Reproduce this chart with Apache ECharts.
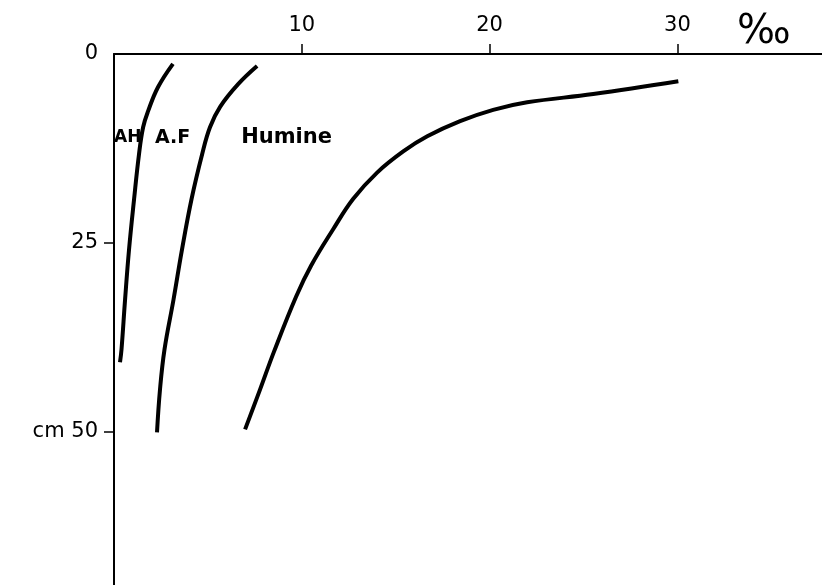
<!DOCTYPE html>
<html>
<head>
<meta charset="utf-8">
<script src="https://cdn.jsdelivr.net/npm/echarts@6/dist/echarts.min.js"></script>
<style>
html,body{margin:0;padding:0;background:#fff;}
#chart{width:822px;height:585px;}
</style>
</head>
<body>
<div id="chart"></div>
<script>
// Data (x in per mille, depth in cm)
var ahDepth = [1.3, 4.4, 7.6, 9.7, 13.3, 19.2, 25.9, 32.5, 39.1, 40.8];
var ahValue = [3.14, 2.34, 1.81, 1.55, 1.33, 1.07, 0.80, 0.59, 0.40, 0.32];

var afDepth = [1.6, 4.0, 7.0, 9.7, 13.3, 19.2, 25.9, 32.5, 39.1, 44.4, 50.1];
var afValue = [7.62, 6.61, 5.65, 5.11, 4.69, 4.13, 3.62, 3.17, 2.69, 2.45, 2.29];

var humDepth = [3.6, 5.3, 6.4, 7.4, 8.9, 10.9, 12.9, 15.7, 19.2, 23.2, 28.0, 32.1, 39.4, 44.4, 49.7];
var humValue = [30.05, 25.52, 22.0, 20.19, 18.43, 16.68, 15.40, 14.01, 12.73, 11.67, 10.50, 9.70, 8.52, 7.78, 6.98];

var xTickValues = [10, 20, 30];
var xUnitValue = 34.6;
var xUnitLabel = '‰';
var yTickValues = [25, 50];
var yLabelValues = [0, 25, 50];
var yUnitLabel = 'cm ';

var seriesNames = ['AH', 'A.F', 'Humine'];
var nameValue = [0.0, 2.18, 6.77];
var nameDepth = [11.1, 11.1, 11.1];

function pairs(xs, ds) {
  return xs.map(function (v, i) { return [v, ds[i]]; });
}

var chart = echarts.init(document.getElementById('chart'), null, {renderer: 'canvas'});
var font = 'DejaVu Sans';
var lineStyleCurve = {color: '#000', width: 4};

var labelSizes = [17, 19, 21];
var nameData = seriesNames.map(function (n, i) {
  return {
    name: n,
    value: [nameValue[i], nameDepth[i]],
    label: {fontSize: labelSizes[i], color: '#000'}
  };
});

function curve(name, xs, ds) {
  return {
    name: name, type: 'line', data: pairs(xs, ds),
    smooth: 0.4, showSymbol: false,
    lineStyle: lineStyleCurve
  };
}

chart.setOption({
  animation: false,
  backgroundColor: '#fff',
  textStyle: {color: '#000', fontFamily: font},
  grid: {left: 114, top: 54, right: 0, bottom: 0, containLabel: false},
  xAxis: {
    type: 'value',
    position: 'top',
    min: 0,
    max: 37.7,
    splitLine: {show: false},
    axisLine: {show: true, lineStyle: {color: '#000', width: 2}},
    axisTick: {show: true, length: 10, customValues: xTickValues, lineStyle: {color: '#000', width: 1.5}},
    axisLabel: {
      customValues: xTickValues.concat([xUnitValue]),
      margin: 18,
      color: '#000',
      fontFamily: font,
      fontSize: 21,
      formatter: function (v) { return v === xUnitValue ? '{p|' + xUnitLabel + '}' : String(v); },
      rich: {p: {fontSize: 40, lineHeight: 6, fontFamily: font, color: '#000'}}
    }
  },
  yAxis: {
    type: 'value',
    inverse: true,
    min: 0,
    max: 70.3,
    splitLine: {show: false},
    axisLine: {show: true, lineStyle: {color: '#000', width: 2}},
    axisTick: {show: true, length: 10, customValues: yTickValues, lineStyle: {color: '#000', width: 1.5}},
    axisLabel: {
      customValues: yLabelValues,
      margin: 16,
      color: '#000',
      fontFamily: font,
      fontSize: 21,
      formatter: function (v) { return v === 50 ? yUnitLabel + v : String(v); }
    }
  },
  series: [
    curve('AH', ahValue, ahDepth),
    curve('A.F', afValue, afDepth),
    curve('Humine', humValue, humDepth),
    {
      type: 'scatter',
      symbolSize: 0,
      data: nameData,
      silent: true,
      itemStyle: {color: '#000', opacity: 1},
      label: {
        show: true,
        position: 'right',
        distance: 0,
        formatter: '{b}',
        color: '#000',
        opacity: 1,
        textBorderWidth: 0,
        fontFamily: font,
        fontWeight: 'bold',
        fontSize: 19
      }
    }
  ]
});
</script>
</body>
</html>
